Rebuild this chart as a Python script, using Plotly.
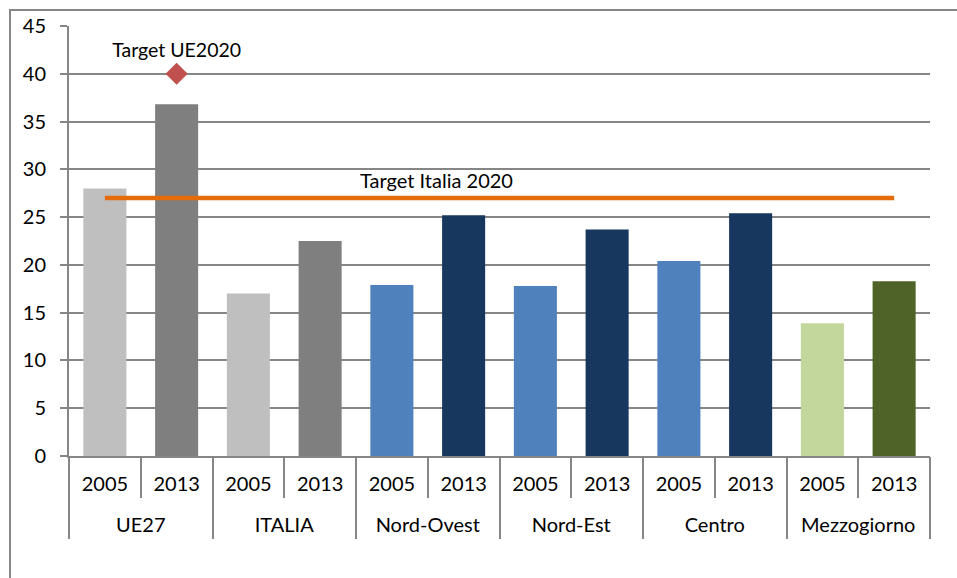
import plotly.graph_objects as go

# Share of renewable energy by area, 2005 vs 2013
areas = ["UE27", "UE27", "ITALIA", "ITALIA", "Nord-Ovest", "Nord-Ovest",
         "Nord-Est", "Nord-Est", "Centro", "Centro", "Mezzogiorno", "Mezzogiorno"]
years = ["2005", "2013"] * 6
values = [28.0, 36.8, 17.0, 22.5, 17.9, 25.2, 17.8, 23.7, 20.4, 25.4, 13.9, 18.3]
bar_colors = ["#BFBFBF", "#7F7F7F", "#BFBFBF", "#7F7F7F", "#4F81BD", "#17375E",
              "#4F81BD", "#17375E", "#4F81BD", "#17375E", "#C3D69B", "#4F6228"]
groups = ["UE27", "ITALIA", "Nord-Ovest", "Nord-Est", "Centro", "Mezzogiorno"]

target_italia = 27
target_ue = 40

FONT = "Lato"
FS = 20
GRID = "#868686"

# one unique category per bar, labelled with its year on the axis
keys = [f"{a} {y}" for a, y in zip(areas, years)]
n = len(keys)
span = [-0.5, n - 0.5]
group_mid = [2 * i + 0.5 for i in range(len(groups))]
group_edges = [2 * i - 0.5 for i in range(len(groups) + 1)]

fig = go.Figure()

fig.add_trace(go.Bar(
    x=keys, y=values,
    marker=dict(color=bar_colors, line=dict(width=0)),
    showlegend=False, hoverinfo="skip",
))

# Italian national 2020 target across all areas
fig.add_trace(go.Scatter(
    x=[keys[0], keys[-1]], y=[target_italia, target_italia],
    mode="lines", line=dict(color="#E46C0A", width=4.5),
    showlegend=False, hoverinfo="skip",
))

# EU 2020 target marker
fig.add_trace(go.Scatter(
    x=[keys[1]], y=[target_ue],
    mode="markers+text",
    marker=dict(symbol="diamond", size=17, color="#C0504D"),
    text=["Target UE2020"], textposition="top center",
    textfont=dict(family=FONT, size=FS - 0.5, color="#000000"),
    showlegend=False, hoverinfo="skip",
))

fig.add_annotation(
    xref="paper", yref="y", x=0.427, y=28.85,
    text="Target Italia 2020", showarrow=False,
    font=dict(family=FONT, size=FS, color="#000000"),
)

# outer chart frame
fig.add_shape(
    type="rect", xref="paper", yref="paper",
    x0=-0.0685, x1=1.2, y0=-0.5, y1=1.0372,
    line=dict(color=GRID, width=2), fillcolor="rgba(0,0,0,0)", layer="below",
)

tickfont = dict(family=FONT, size=FS, color="#000000")

fig.update_layout(
    width=957, height=578,
    margin=dict(l=69, r=27, t=26, b=122),
    plot_bgcolor="white", paper_bgcolor="white",
    bargap=0.4,
    font=dict(family=FONT, size=FS, color="#000000"),
    # year labels
    xaxis=dict(
        type="category", categoryorder="array", categoryarray=keys,
        tickvals=keys, ticktext=years, ticks="",
        showline=True, linecolor=GRID, linewidth=2,
        ticklabelstandoff=9, showgrid=False,
        tickfont=tickfont,
    ),
    # area labels, with the short dividers between the two years
    xaxis2=dict(
        overlaying="x", anchor="y", side="bottom",
        range=span, tickvals=group_mid, ticktext=groups,
        ticks="outside", ticklen=41, tickcolor=GRID, tickwidth=2,
        ticklabelstandoff=10,
        showgrid=False, zeroline=False, showline=False,
        tickfont=tickfont,
    ),
    # long dividers between areas
    xaxis3=dict(
        overlaying="x", anchor="y", side="bottom",
        range=span, tickvals=group_edges, showticklabels=False,
        ticks="outside", ticklen=82, tickcolor=GRID, tickwidth=2,
        showgrid=False, zeroline=False, showline=False,
    ),
    yaxis=dict(
        range=[0, 45], dtick=5,
        showgrid=True, gridcolor=GRID, gridwidth=1.7,
        showline=True, linecolor=GRID, linewidth=2,
        ticks="outside", ticklen=7, tickcolor=GRID, tickwidth=2,
        ticklabelstandoff=10,
        zeroline=False,
        tickfont=tickfont,
    ),
)

# empty traces so the overlay axes are drawn
for ax in ("x2", "x3"):
    fig.add_trace(go.Scatter(x=[None], y=[None], xaxis=ax, yaxis="y",
                             showlegend=False, hoverinfo="skip"))

fig.write_html("out.html")
